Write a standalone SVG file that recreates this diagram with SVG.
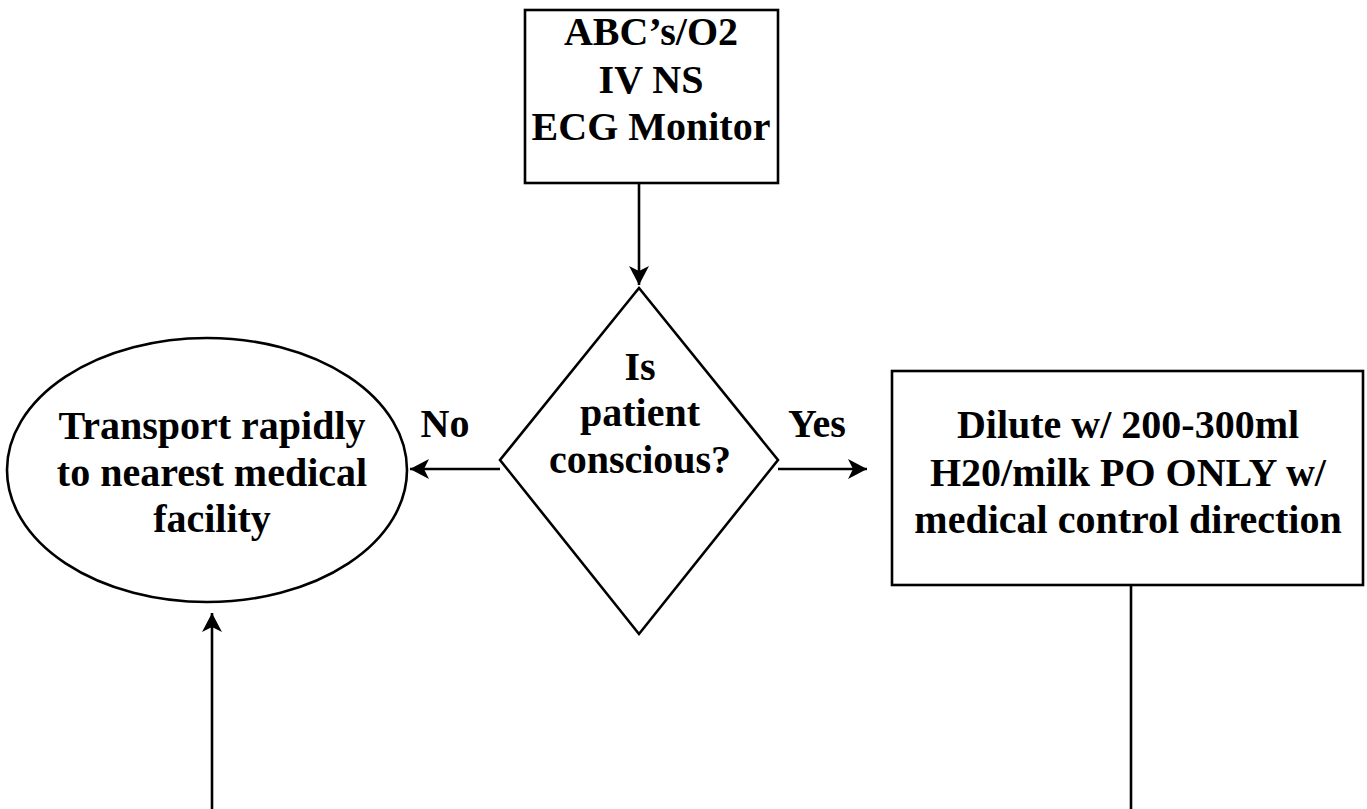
<svg xmlns="http://www.w3.org/2000/svg" width="1367" height="809" viewBox="0 0 1367 809">
  <style>
    .shape { fill: #ffffff; stroke: #000000; stroke-width: 2.6; }
    .conn { fill: none; stroke: #000000; stroke-width: 2.6; }
    .label { font-family: "Liberation Serif", "Times New Roman", serif; font-weight: bold; font-size: 40px; fill: #000000; text-anchor: middle; }
  </style>
  <defs>
    <marker id="arrow" viewBox="0 0 20 20" refX="19" refY="10" markerWidth="20" markerHeight="20" markerUnits="userSpaceOnUse" orient="auto">
      <path d="M19,10 L0,0 L5,10 L0,20 Z" fill="#000000"/>
    </marker>
  </defs>
  <rect width="1367" height="809" fill="#ffffff"/>

  <g id="connectors">
    <line class="conn" x1="639" y1="183" x2="639" y2="285" marker-end="url(#arrow)"/>
    <line class="conn" x1="500" y1="469" x2="410" y2="469" marker-end="url(#arrow)"/>
    <line class="conn" x1="778" y1="469" x2="867" y2="469" marker-end="url(#arrow)"/>
    <line class="conn" x1="212" y1="809" x2="212" y2="613" marker-end="url(#arrow)"/>
    <line class="conn" x1="1131" y1="585" x2="1131" y2="809"/>
  </g>

  <g id="initial-care">
    <rect class="shape" x="525" y="10" width="253" height="173"/>
    <text class="label" x="651" y="45">ABC’s/O2</text>
    <text class="label" x="651" y="93">IV NS</text>
    <text class="label" x="651" y="140">ECG Monitor</text>
  </g>

  <g id="conscious-decision">
    <polygon class="shape" points="639,288 778,460 639,634 500,460"/>
    <text class="label" x="640" y="380">Is</text>
    <text class="label" x="640" y="426">patient</text>
    <text class="label" x="640" y="473">conscious?</text>
  </g>

  <g id="label-no">
    <text class="label" x="445" y="437">No</text>
  </g>
  <g id="label-yes">
    <text class="label" x="817" y="437">Yes</text>
  </g>

  <g id="transport">
    <ellipse class="shape" cx="207" cy="470" rx="200" ry="132"/>
    <text class="label" x="212" y="439">Transport rapidly</text>
    <text class="label" x="212" y="486">to nearest medical</text>
    <text class="label" x="212" y="532">facility</text>
  </g>

  <g id="dilute">
    <rect class="shape" x="892" y="371" width="471" height="214"/>
    <text class="label" x="1128" y="438">Dilute w/ 200-300ml</text>
    <text class="label" x="1128" y="486">H20/milk PO ONLY w/</text>
    <text class="label" x="1128" y="533">medical control direction</text>
  </g>
</svg>
